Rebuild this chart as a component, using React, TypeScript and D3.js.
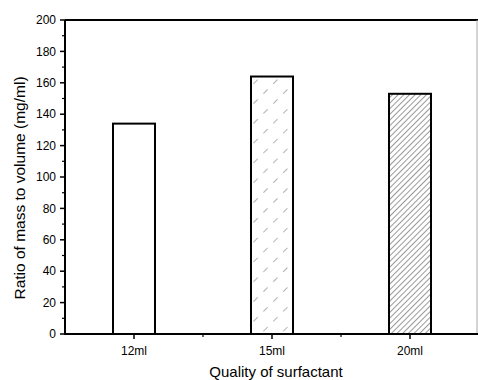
import React from "react";
import * as d3 from "d3";

const categories = ["12ml", "15ml", "20ml"];
const values = [134, 164, 153];
const yTicks = [0, 20, 40, 60, 80, 100, 120, 140, 160, 180, 200];
const fills = ["white", "url(#hatchSparse)", "url(#hatchDense)"];

export default function App() {
  const W = 478, H = 380;
  const left = 65, right = 479, top = 20, bottom = 334;
  const x = d3.scalePoint<string>().domain(categories).range([left, right]).padding(0.5);
  const y = d3.scaleLinear().domain([0, 200]).range([bottom, top]);
  const step = x.step();
  const barW = 42;
  const minor = d3.range(10, 200, 20);
  const font = "'Liberation Sans', Arial, sans-serif";
  return (
    <svg width={W} height={H} style={{ position: "absolute", left: 0, top: 0 }} fontFamily={font}>
      <defs>
        <pattern id="hatchSparse" patternUnits="userSpaceOnUse" width="14" height="14" patternTransform="rotate(45)">
          <line x1="0" y1="0" x2="0" y2="6" stroke="#555" strokeWidth="0.9" />
        </pattern>
        <pattern id="hatchDense" patternUnits="userSpaceOnUse" width="4" height="4" patternTransform="rotate(45)">
          <line x1="0" y1="0" x2="0" y2="4" stroke="#333" strokeWidth="1" />
        </pattern>
      </defs>
      <rect width={W} height={H} fill="white" />
      {categories.map((c, i) => (
        <rect key={c} x={(x(c) as number) - barW / 2} y={y(values[i])} width={barW} height={bottom - y(values[i])}
          fill={fills[i]} stroke="black" strokeWidth={2} />
      ))}
      <line x1={left} y1={top} x2={right} y2={top} stroke="black" strokeWidth={2} />
      <line x1={right - 2} y1={top} x2={right - 2} y2={bottom} stroke="#aaa" strokeWidth={1} />
      <line x1={left} y1={top} x2={left} y2={bottom} stroke="black" strokeWidth={2} />
      <line x1={left - 1} y1={bottom} x2={right} y2={bottom} stroke="black" strokeWidth={2} />
      {yTicks.map(t => (
        <g key={t}>
          <line x1={left - 5} x2={left} y1={y(t)} y2={y(t)} stroke="black" strokeWidth={1.5} />
          <text x={left - 9} y={y(t)} dy="0.35em" textAnchor="end" fontSize={12}>{t}</text>
        </g>
      ))}
      {minor.map(t => (
        <line key={t} x1={left - 3} x2={left} y1={y(t)} y2={y(t)} stroke="black" strokeWidth={1.2} />
      ))}
      {categories.map(c => (
        <g key={c}>
          <line x1={x(c)} x2={x(c)} y1={bottom} y2={bottom + 5} stroke="black" strokeWidth={1.5} />
          <text x={x(c)} y={bottom + 21} textAnchor="middle" fontSize={12}>{c}</text>
        </g>
      ))}
      {categories.slice(0, -1).map(c => (
        <line key={"m" + c} x1={(x(c) as number) + step / 2} x2={(x(c) as number) + step / 2} y1={bottom} y2={bottom + 3} stroke="black" strokeWidth={1.2} />
      ))}
      <text x={276} y={377} textAnchor="middle" fontSize={15}>Quality of surfactant</text>
      <text transform={`translate(25,188) rotate(-90)`} textAnchor="middle" fontSize={15.5}>Ratio of mass to volume (mg/ml)</text>
    </svg>
  );
}
